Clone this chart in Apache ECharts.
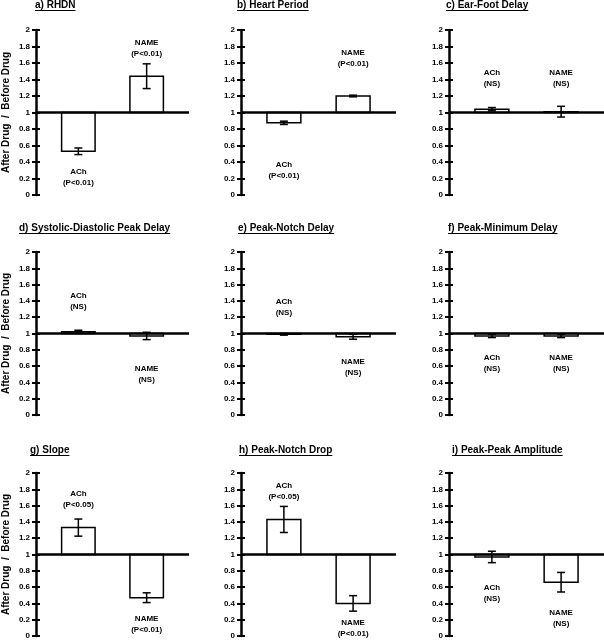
<!DOCTYPE html>
<html>
<head>
<meta charset="utf-8">
<script src="https://cdn.jsdelivr.net/npm/echarts@6/dist/echarts.min.js"></script>
<style>
  html, body { margin: 0; padding: 0; background: #fff; }
  #chart { width: 604px; height: 640px; }
</style>
</head>
<body>
<div id="chart"></div>
<script>
const panelTitles = [
  'a) RHDN', 'b) Heart Period', 'c) Ear-Foot Delay',
  'd) Systolic-Diastolic Peak Delay', 'e) Peak-Notch Delay', 'f) Peak-Minimum Delay',
  'g) Slope', 'h) Peak-Notch Drop', 'i) Peak-Peak Amplitude'
];
const groups = ['ACh', 'NAME'];

// ratio after drug / before drug, with error bar half-length
const achMean = [0.53, 0.875, 1.04, 1.02, 0.99, 0.97, 1.33, 1.43, 0.97];
const achErr = [0.04, 0.02, 0.02, 0.02, 0.01, 0.02, 0.105, 0.16, 0.07];
const nameMean = [1.44, 1.2, 1.01, 0.97, 0.96, 0.97, 0.47, 0.40, 0.66];
const nameErr = [0.15, 0.01, 0.065, 0.045, 0.03, 0.02, 0.06, 0.095, 0.12];

// significance notes and the value at which each note sits
const achSig = ['P<0.01', 'P<0.01', 'NS', 'NS', 'NS', 'NS', 'P<0.05', 'P<0.05', 'NS'];
const nameSig = ['P<0.01', 'P<0.01', 'NS', 'NS', 'NS', 'NS', 'P<0.01', 'P<0.01', 'NS'];
const achNoteAt = [0.22, 0.30, 1.42, 1.40, 1.32, 0.64, 1.675, 1.78, 0.53];
const nameNoteAt = [1.78, 1.66, 1.42, 0.505, 0.58, 0.64, 0.14, 0.095, 0.22];

const yMin = 0, yMax = 2, yStep = 0.2, baseline = 1;

// layout
const colLeft = [34, 241, 449];
const rowTop = [30, 252, 473];
const rowHeight = [165, 163, 163];
const plotWidth = 155;
const titleLeft = [35, 237, 446, 19, 238, 448, 30, 239, 452];
const titleMid = [5, 228, 450];
const barW = 0.49;
const FONT = '"Liberation Sans", Arial, sans-serif';

const chart = echarts.init(document.getElementById('chart'));

const grids = [], xAxes = [], yAxes = [], series = [], graphics = [];
const measure = document.createElement('canvas').getContext('2d');
measure.font = 'bold 10px ' + FONT;

panelTitles.forEach((title, i) => {
  const r = Math.floor(i / 3), c = i % 3;
  grids.push({ left: colLeft[c], top: rowTop[r], width: plotWidth, height: rowHeight[r] });
  xAxes.push({
    type: 'value', gridIndex: i, min: -0.62, max: 1.62,
    show: false
  });
  const yCommon = {
    type: 'value', gridIndex: i, min: yMin, max: yMax, interval: yStep,
    position: 'left',
    splitLine: { show: false }
  };
  yAxes.push(Object.assign({}, yCommon, {
    name: c === 0 ? 'After Drug  /  Before Drug' : '',
    nameLocation: 'middle', nameGap: 25,
    nameTextStyle: { fontFamily: FONT, fontWeight: 'bold', fontSize: 10, color: '#000' },
    axisLine: { show: true, onZero: false, lineStyle: { color: '#000', width: 2.5 } },
    axisTick: { show: true, length: 4, lineStyle: { color: '#000', width: 2 } },
    axisLabel: { fontFamily: FONT, fontWeight: 'bold', fontSize: 8, color: '#000', margin: 6 }
  }));
  yAxes.push(Object.assign({}, yCommon, {
    axisLine: { show: false, onZero: false },
    axisTick: { show: true, inside: true, length: 4, lineStyle: { color: '#000', width: 2 } },
    axisLabel: { show: false }
  }));

  const rows = groups.map((g, k) => [
    k,
    k === 0 ? achMean[i] : nameMean[i],
    k === 0 ? achErr[i] : nameErr[i]
  ]);

  series.push({
    type: 'custom', xAxisIndex: i, yAxisIndex: i * 2, data: rows,
    renderItem: (params, api) => {
      const x = api.value(0), v = api.value(1), e = api.value(2);
      const p0 = api.coord([x - barW / 2, baseline]);
      const p1 = api.coord([x + barW / 2, v]);
      const top = api.coord([x, v + e]);
      const bot = api.coord([x, v - e]);
      const cap = 4;
      return {
        type: 'group',
        children: [
          { type: 'rect',
            shape: { x: Math.min(p0[0], p1[0]), y: Math.min(p0[1], p1[1]),
                     width: Math.abs(p1[0] - p0[0]), height: Math.abs(p1[1] - p0[1]) },
            style: { fill: '#fff', stroke: '#000', lineWidth: 1.5 } },
          { type: 'line', shape: { x1: top[0], y1: top[1], x2: bot[0], y2: bot[1] },
            style: { stroke: '#000', lineWidth: 1.5 } },
          { type: 'line', shape: { x1: top[0] - cap, y1: top[1], x2: top[0] + cap, y2: top[1] },
            style: { stroke: '#000', lineWidth: 1.5 } },
          { type: 'line', shape: { x1: bot[0] - cap, y1: bot[1], x2: bot[0] + cap, y2: bot[1] },
            style: { stroke: '#000', lineWidth: 1.5 } }
        ]
      };
    },
    markLine: {
      silent: true, symbol: 'none', animation: false,
      label: { show: false },
      lineStyle: { color: '#000', width: 2.5, type: 'solid' },
      data: [{ yAxis: baseline }]
    },
    z: 3
  });

  const notes = groups.map((g, k) => [
    k,
    k === 0 ? achNoteAt[i] : nameNoteAt[i],
    g + '\n(' + (k === 0 ? achSig[i] : nameSig[i]) + ')'
  ]);
  series.push({
    type: 'custom', xAxisIndex: i, yAxisIndex: i * 2, data: notes,
    renderItem: (params, api) => {
      const p = api.coord([api.value(0), api.value(1)]);
      return {
        type: 'text', x: p[0], y: p[1],
        style: {
          text: notes[params.dataIndex][2],
          fontFamily: FONT, fontWeight: 'bold', fontSize: 8, lineHeight: 11,
          fill: '#000', align: 'center', verticalAlign: 'middle'
        }
      };
    }
  });

  const w = measure.measureText(title).width;
  graphics.push({
    type: 'group', left: titleLeft[i], top: titleMid[r] - 5,
    children: [
      { type: 'text', x: 0, y: 0,
        style: { text: title, font: 'bold 10px ' + FONT, fill: '#000' } },
      { type: 'rect', shape: { x: 0, y: 10, width: w, height: 1 },
        style: { fill: '#000' } }
    ]
  });
});

chart.setOption({
  animation: false,
  grid: grids,
  xAxis: xAxes,
  yAxis: yAxes,
  series: series,
  graphic: graphics
});
</script>
</body>
</html>
